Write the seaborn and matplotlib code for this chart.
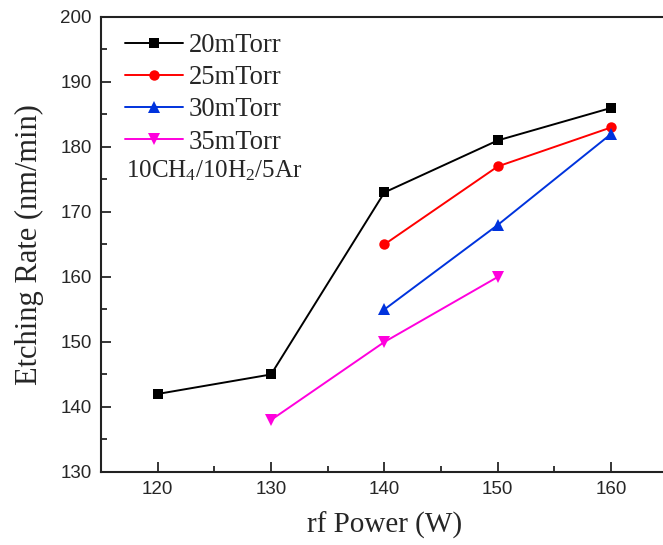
import matplotlib
matplotlib.use("Agg")
import matplotlib.pyplot as plt
import seaborn as sns
import pandas as pd
from matplotlib.ticker import MultipleLocator

series = ["20mTorr", "25mTorr", "30mTorr", "35mTorr"]
power_20 = [120, 130, 140, 150, 160]
rate_20 = [142, 145, 173, 181, 186]
power_25 = [140, 150, 160]
rate_25 = [165, 177, 183]
power_30 = [140, 150, 160]
rate_30 = [155, 168, 182]
power_35 = [130, 140, 150]
rate_35 = [138, 150, 160]

rows = []
for name, xs, ys in zip(series, [power_20, power_25, power_30, power_35],
                        [rate_20, rate_25, rate_30, rate_35]):
    for x, y in zip(xs, ys):
        rows.append({"power": x, "rate": y, "series": name})
df = pd.DataFrame(rows)

sns.set_style("ticks")
plt.rcParams["mathtext.fontset"] = "custom"
plt.rcParams["mathtext.rm"] = "Liberation Serif"
plt.rcParams["mathtext.it"] = "Liberation Serif:italic"
plt.rcParams["mathtext.bf"] = "Liberation Serif:bold"

fig = plt.figure(figsize=(6.63, 5.45), dpi=100)
ax = fig.add_axes([0.1523, 0.134, 0.855, 0.835])

palette = {"20mTorr": "#000000", "25mTorr": "#ff0000", "30mTorr": "#0033dd", "35mTorr": "#ff00dd"}
markers = {"20mTorr": "s", "25mTorr": "o", "30mTorr": "^", "35mTorr": "v"}
msize = {"s": 7, "o": 7.5, "^": 8.8, "v": 8.8}
sns.lineplot(data=df, x="power", y="rate", hue="series", style="series",
             markers=markers, dashes=False, palette=palette, ax=ax,
             markersize=8, markeredgewidth=0, linewidth=1.4, legend=True)
for ln in ax.lines:
    m = ln.get_marker()
    if m in msize:
        ln.set_markersize(msize[m])

ax.set_xlim(115, 165)
ax.set_ylim(130, 200)
ax.xaxis.set_major_locator(MultipleLocator(10))
ax.xaxis.set_minor_locator(MultipleLocator(5))
ax.yaxis.set_major_locator(MultipleLocator(10))
ax.yaxis.set_minor_locator(MultipleLocator(5))
ax.tick_params(which="both", direction="in", top=False, right=False, width=1.3)
ax.tick_params(which="major", length=7)
ax.tick_params(which="minor", length=4)
for lab in ax.get_xticklabels() + ax.get_yticklabels():
    lab.set_fontfamily("Liberation Sans")
    lab.set_fontsize(13.5)
ax.tick_params(axis="x", pad=6.5)
ax.tick_params(axis="y", pad=6.5)
for sp in ax.spines.values():
    sp.set_linewidth(1.5)
    sp.set_color("#222222")

ax.set_xlabel("rf Power (W)", fontfamily="Liberation Serif", fontsize=21, labelpad=10)
ax.set_ylabel("Etching Rate (nm/min)", fontfamily="Liberation Serif", fontsize=22, labelpad=12)

leg = ax.legend(loc="upper left", frameon=False, handlelength=2.15, handletextpad=0.22,
                prop={"family": "Liberation Serif", "size": 19.2},
                borderaxespad=0.0, labelspacing=0.27, bbox_to_anchor=(0.024, 0.988))
for h in leg.legend_handles:
    m = h.get_marker()
    if m in msize:
        h.set_markersize(msize[m])
ax.text(0.045, 0.662, "10CH$_4$/10H$_2$/5Ar", transform=ax.transAxes,
        fontfamily="Liberation Serif", fontsize=18, va="center")
fig.savefig("out.png", dpi=100)
